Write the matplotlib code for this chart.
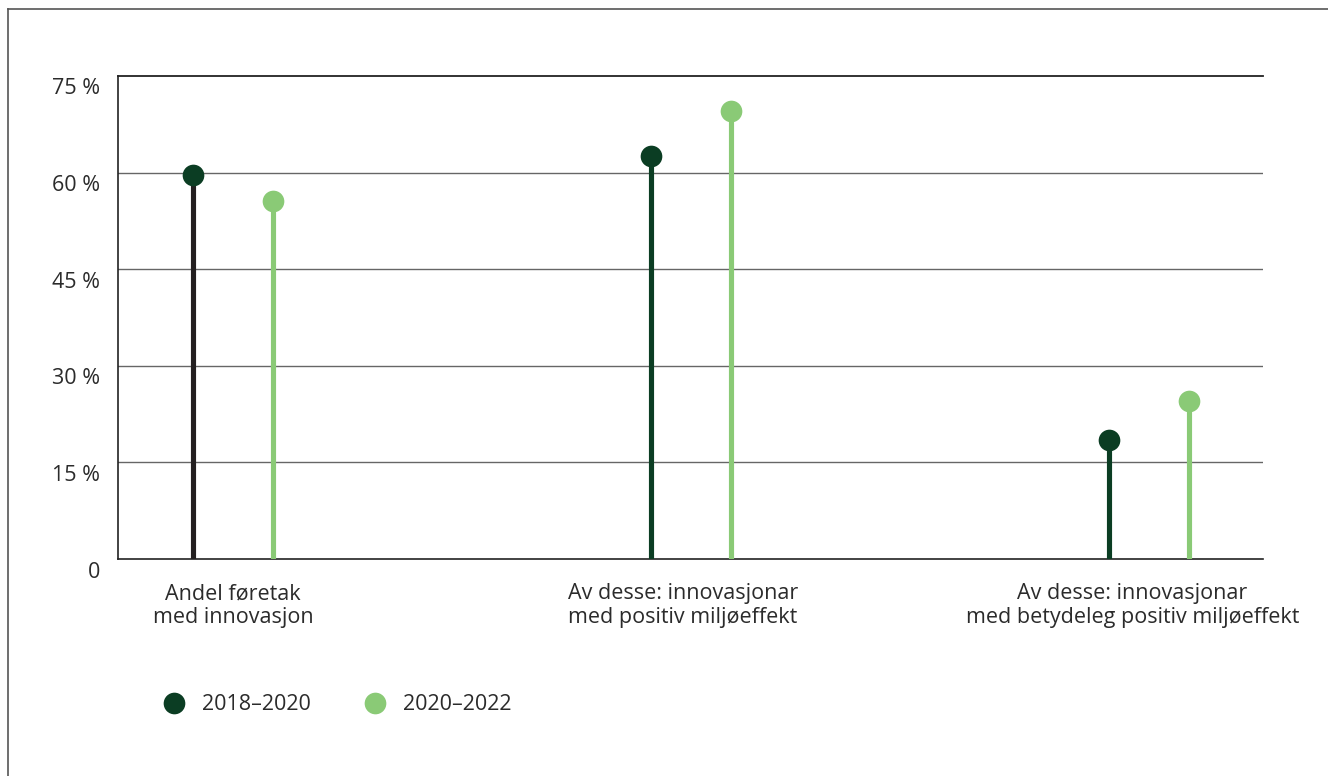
import matplotlib
matplotlib.use("Agg")
import matplotlib.pyplot as plt
import matplotlib.transforms as mtransforms
from matplotlib.lines import Line2D

plt.rcParams['font.family'] = ['Open Sans', 'DejaVu Sans']

# ---- data ----
categories = ["Andel føretak\nmed innovasjon",
              "Av desse: innovasjonar\nmed positiv miljøeffekt",
              "Av desse: innovasjonar\nmed betydeleg positiv miljøeffekt"]
series_names = ["2018–2020", "2020–2022"]
values_2018_2020 = [59.6, 62.6, 18.5]
values_2020_2022 = [55.6, 69.6, 24.5]
y_ticks = [0, 15, 30, 45, 60, 75]
y_tick_labels = ["0", "15 %", "30 %", "45 %", "60 %", "75 %"]

# ---- style ----
DARK = "#0b3d23"
LIGHT = "#8aca76"
STEM_DARK = ["#231f20", DARK, DARK]
TEXT = "#2b2b2b"
FS = 15.5

W, H = 1328, 776
fig = plt.figure(figsize=(W / 100, H / 100), dpi=100)
ax = fig.add_axes([118 / W, 1 - 559 / H, (1263 - 118) / W, (559 - 76) / H])

group_pos = [0, 1, 2]
off = 40 / 458
label_shift = [0.0, -0.018, -0.036]

x_dark = [g - off for g in group_pos]
x_light = [g + off for g in group_pos]

ax.vlines(x_dark, 0, values_2018_2020, colors=STEM_DARK, linewidth=3.7, zorder=3)
ax.vlines(x_light, 0, values_2020_2022, colors=LIGHT, linewidth=3.7, zorder=3)
ax.plot(x_dark, values_2018_2020, 'o', color=DARK, markersize=15.6, markeredgewidth=0, zorder=4)
ax.plot(x_light, values_2020_2022, 'o', color=LIGHT, markersize=15.6, markeredgewidth=0, zorder=4)

ax.set_xlim(-(233 - 118) / 458, (1263 - 233) / 458)
ax.set_ylim(0, 75)

# grid
for t in y_ticks[1:-1]:
    ax.axhline(t, color="#666666", linewidth=1.0, zorder=1)
ax.axhline(75, color="#222222", linewidth=1.3, zorder=1, clip_on=False)

for s in ["right", "top"]:
    ax.spines[s].set_visible(False)
ax.spines["left"].set_color("#222222")
ax.spines["bottom"].set_color("#222222")
ax.spines["left"].set_linewidth(1.2)
ax.spines["bottom"].set_linewidth(1.2)
ax.set_xticks([])
ax.set_yticks([])

# y tick labels (drawn slightly below the lines, as in reference)
ytr = ax.get_yaxis_transform() + mtransforms.ScaledTranslation(-18 / 100, -13 / 100, fig.dpi_scale_trans)
for t, lab in zip(y_ticks, y_tick_labels):
    ax.text(0, t, lab, transform=ytr, ha="right", va="center", fontsize=FS, color=TEXT)

# category labels
xtr = ax.get_xaxis_transform() + mtransforms.ScaledTranslation(0, -24 / 100, fig.dpi_scale_trans)
for g, sh, lab in zip(group_pos, label_shift, categories):
    ax.text(g + sh, 0, lab, transform=xtr, ha="center", va="top", fontsize=FS,
            color=TEXT, linespacing=1.2)

# legend
handles = [Line2D([], [], linestyle="none", marker="o", markersize=15.6, color=c, markeredgewidth=0)
           for c in (DARK, LIGHT)]
leg = fig.legend(handles, series_names, loc="center left",
                 bbox_to_anchor=(163.6 / W, 1 - 705 / H), ncol=2, frameon=False,
                 fontsize=FS, handlelength=1.0, handletextpad=0.8, columnspacing=2.45,
                 borderpad=0, borderaxespad=0)
for t in leg.get_texts():
    t.set_color(TEXT)

# outer frame (left and top edges)
fig.add_artist(Line2D([7.5 / W, 7.5 / W], [0, 1 - 9 / H], transform=fig.transFigure,
                      color="#555555", linewidth=1.2))
fig.add_artist(Line2D([7.5 / W, 1], [1 - 9 / H, 1 - 9 / H], transform=fig.transFigure,
                      color="#555555", linewidth=1.2))

fig.savefig("out.png", dpi=100)
